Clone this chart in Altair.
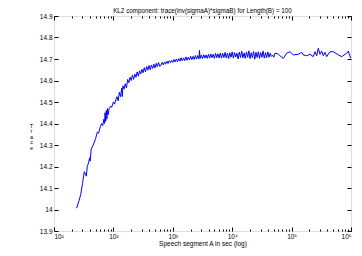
import altair as alt
import pandas as pd

# x positions as log10(seconds); trace values
log_sec = [
    1.38, 1.42, 1.45, 1.48, 1.51, 1.53, 1.545, 1.56, 1.58, 1.60, 1.61, 1.625, 1.66, 1.70, 1.73, 1.75,
    1.78, 1.80, 1.82, 1.84, 1.85, 1.86, 1.87, 1.88, 1.89, 1.90, 1.91, 1.93, 1.95, 1.97, 2.00, 2.02, 2.04,
    2.06, 2.08, 2.10, 2.12, 2.14, 2.15, 2.16, 2.18, 2.20, 2.22, 2.24, 2.26, 2.28, 2.30, 2.32, 2.34,
    2.36, 2.38, 2.40, 2.42, 2.44, 2.46, 2.48, 2.50, 2.52, 2.54, 2.56, 2.58, 2.60, 2.62, 2.64, 2.66,
    2.68, 2.70, 2.72, 2.74, 2.76, 2.78,
    2.80, 2.82, 2.84, 2.86, 2.88, 2.90, 2.92, 2.94, 2.96, 2.98,
    3.00, 3.02, 3.04, 3.06, 3.08, 3.10, 3.12, 3.14, 3.16, 3.18,
    3.20, 3.22, 3.24, 3.26, 3.28, 3.30, 3.32, 3.34, 3.36, 3.38,
    3.40, 3.42, 3.44, 3.45, 3.46, 3.48, 3.50, 3.52, 3.54, 3.56, 3.58,
    3.60, 3.62, 3.64, 3.66, 3.68, 3.70, 3.72, 3.74, 3.76, 3.78,
    3.80, 3.82, 3.84, 3.86, 3.88, 3.90, 3.92, 3.94, 3.96, 3.98,
    4.00, 4.02, 4.04, 4.06, 4.08, 4.10, 4.12, 4.14, 4.16, 4.18,
    4.20, 4.22, 4.24, 4.26, 4.28, 4.30, 4.32, 4.34, 4.36, 4.38,
    4.40, 4.42, 4.44, 4.46, 4.48, 4.50, 4.52, 4.54, 4.56, 4.58,
    4.60, 4.62, 4.64, 4.66,
    4.68, 4.70, 4.721, 4.776, 4.805, 4.860, 4.917, 4.973, 5.029, 5.113, 5.170, 5.197, 5.254, 5.310,
    5.365, 5.394, 5.423, 5.449, 5.478, 5.507, 5.534, 5.562, 5.591, 5.646, 5.702, 5.786, 5.843,
    5.928, 5.955, 5.995,
]
trace = [
    14.006, 14.04, 14.07, 14.12, 14.176, 14.165, 14.155, 14.20, 14.215, 14.24, 14.225, 14.28, 14.30,
    14.33, 14.36, 14.355, 14.385, 14.40, 14.39, 14.42, 14.40, 14.45, 14.41, 14.46, 14.42, 14.47,
    14.44, 14.47, 14.48, 14.475, 14.50, 14.49, 14.51,
    14.525, 14.505, 14.545, 14.525, 14.565, 14.525, 14.575, 14.56, 14.585, 14.565, 14.605, 14.59,
    14.615, 14.60, 14.625, 14.605, 14.63, 14.615, 14.64, 14.62, 14.645, 14.63, 14.652, 14.636,
    14.66, 14.64, 14.665, 14.648, 14.67, 14.65, 14.672, 14.656, 14.676, 14.658, 14.68, 14.664,
    14.684, 14.666,
    14.670, 14.684, 14.673, 14.686, 14.676, 14.690, 14.679, 14.692, 14.683, 14.694,
    14.684, 14.698, 14.686, 14.700, 14.688, 14.702, 14.690, 14.706, 14.692, 14.705,
    14.692, 14.710, 14.694, 14.708, 14.696, 14.713, 14.697, 14.712, 14.698, 14.716,
    14.700, 14.716, 14.701, 14.740, 14.702, 14.718, 14.702, 14.720, 14.704, 14.719, 14.703,
    14.722, 14.704, 14.723, 14.706, 14.722, 14.703, 14.726, 14.706, 14.724, 14.705,
    14.728, 14.704, 14.726, 14.707, 14.731, 14.705, 14.727, 14.702, 14.729, 14.708,
    14.733, 14.704, 14.730, 14.709, 14.727, 14.700, 14.732, 14.707, 14.736, 14.705,
    14.728, 14.703, 14.733, 14.708, 14.738, 14.702, 14.729, 14.706, 14.735, 14.699,
    14.731, 14.707, 14.734, 14.703, 14.730, 14.708, 14.737, 14.704, 14.729, 14.706,
    14.733, 14.708, 14.727, 14.712,
    14.718, 14.708, 14.727, 14.723, 14.715, 14.703, 14.727, 14.734, 14.719, 14.722, 14.731, 14.719,
    14.715, 14.722, 14.711, 14.734, 14.715, 14.750, 14.722, 14.737, 14.715, 14.731, 14.711, 14.734,
    14.734, 14.719, 14.711, 14.727, 14.737, 14.703,
]
assert len(log_sec) == len(trace), (len(log_sec), len(trace))

x_major = [10, 100, 1000, 10000, 100000, 1000000]
x_all_ticks = [m * 10 ** e for e in range(1, 6) for m in range(1, 10)] + [1000000]
y_ticks = [13.9, 14.0, 14.1, 14.2, 14.3, 14.4, 14.5, 14.6, 14.7, 14.8, 14.9]

seconds = [10 ** v for v in log_sec]
df = pd.DataFrame({"seconds": seconds, "trace": trace})

W, H = 297, 215
FONT = "Liberation Sans"

xscale = alt.Scale(type="log", domain=[10, 1000000], nice=False)
yscale = alt.Scale(domain=[13.9, 14.9], nice=False, zero=False)

x_tick_size = {
    "condition": {"test": "indexof([10,100,1000,10000,100000,1000000], datum.value) >= 0", "value": 4},
    "value": 2,
}
sup_expr = "'10' + ['\u2070','\u00b9','\u00b2','\u00b3','\u2074','\u2075','\u2076'][round(log(datum.value)/LN10)]"

base = alt.Chart(df)

line = base.mark_line(color="#0000ff", strokeWidth=1, clip=True).encode(
    x=alt.X(
        "seconds:Q", scale=xscale,
        axis=alt.Axis(
            orient="bottom", values=x_major, labelExpr=sup_expr, ticks=False, domain=False,
            grid=False, labelPadding=2, labelFont=FONT, labelFontSize=6.5, labelColor="black",
            title="Speech segment A in sec (log)", titleFont=FONT, titleFontSize=6.5,
            titleFontWeight="normal", titleColor="black", titleY=9, titleBaseline="top",
        ),
    ),
    y=alt.Y(
        "trace:Q", scale=yscale,
        axis=alt.Axis(
            orient="left", values=y_ticks, format="~g", ticks=False, domain=False, grid=False,
            labelPadding=2, labelFont=FONT, labelFontSize=6.5, labelColor="black",
            labelBaseline="middle",
            title=["T", "r", "a", "c", "e"], titleAngle=0, titleX=-23, titleY=109,
            titleAlign="center", titleBaseline="middle", titleLineHeight=5.5, titleFont=FONT,
            titleFontSize=5.5, titleFontWeight="normal", titleColor="black",
        ),
    ),
)

ticks_a = base.mark_line(opacity=0).encode(
    x=alt.X(
        "seconds:Q", scale=xscale,
        axis=alt.Axis(orient="top", offset=-H, values=x_all_ticks, tickSize=x_tick_size,
                      tickColor="black", tickWidth=1, labels=False, domain=False, grid=False,
                      title=None),
    ),
    y=alt.Y(
        "trace:Q", scale=yscale,
        axis=alt.Axis(orient="right", offset=-W, values=y_ticks, tickSize=4, tickColor="black",
                      tickWidth=1, labels=False, domain=False, grid=False, title=None),
    ),
)

ticks_b = base.mark_line(opacity=0).encode(
    x=alt.X(
        "seconds:Q", scale=xscale,
        axis=alt.Axis(orient="bottom", offset=-H, values=x_all_ticks, tickSize=x_tick_size,
                      tickColor="black", tickWidth=1, labels=False, domain=False, grid=False,
                      title=None),
    ),
    y=alt.Y(
        "trace:Q", scale=yscale,
        axis=alt.Axis(orient="left", offset=-W, values=y_ticks, tickSize=4, tickColor="black",
                      tickWidth=1, labels=False, domain=False, grid=False, title=None),
    ),
)

chart = (
    alt.layer(line, ticks_a, ticks_b)
    .resolve_axis(x="independent", y="independent")
    .properties(
        width=W, height=H,
        title=alt.TitleParams(
            "KL2 component: trace(inv(sigmaA)*sigmaB) for Length(B) = 100",
            font=FONT, fontSize=6.3, fontWeight="normal", color="black", anchor="middle",
            frame="group", offset=-1.5,
        ),
        autosize=alt.AutoSizeParams(type="none"),
        padding={"left": 46, "top": 8, "right": 3, "bottom": 17},
    )
    .configure_view(stroke="black", strokeWidth=1)
    .configure(background="white")
)

chart.save("out.html", embed_options={"renderer": "svg", "actions": False})
